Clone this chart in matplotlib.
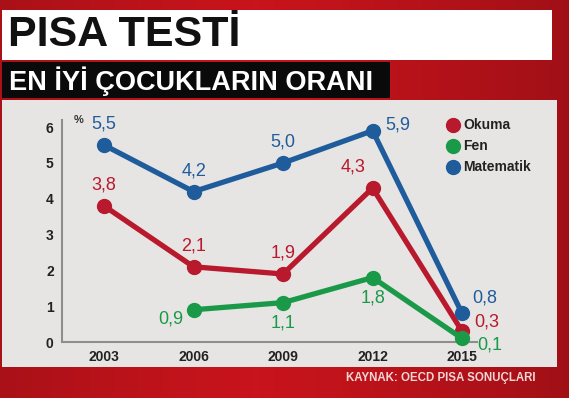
import numpy as np
import matplotlib.pyplot as plt
from matplotlib.patches import Rectangle
from matplotlib.colors import LinearSegmentedColormap

years = [2003, 2006, 2009, 2012, 2015]
okuma = [3.8, 2.1, 1.9, 4.3, 0.3]
fen_years = [2006, 2009, 2012, 2015]
fen = [0.9, 1.1, 1.8, 0.1]
matematik = [5.5, 4.2, 5.0, 5.9, 0.8]
yticks = [0, 1, 2, 3, 4, 5, 6]

c_red = "#b8192c"
c_green = "#1a9a48"
c_blue = "#1f5c9c"

plt.rcParams["font.family"] = ["Liberation Sans", "DejaVu Sans"]

fig = plt.figure(figsize=(5.69, 3.98), dpi=100)

# red background with a soft gradient
bg = fig.add_axes([0, 0, 1, 1], zorder=-10)
gx = np.linspace(0, 1, 200)
grad = np.outer(np.ones(50), 1 - 0.35 * np.abs(gx - 0.45) ** 1.2)
cm = LinearSegmentedColormap.from_list("bgred", ["#6e0a10", "#c8141c"])
bg.imshow(grad, cmap=cm, vmin=0.6, vmax=1.0, aspect="auto", extent=[0, 1, 0, 1])
bg.set_xlim(0, 1)
bg.set_ylim(0, 1)
bg.axis("off")

W, H = 569, 398
def box(x0, y0, x1, y1, color):
    bg.add_patch(Rectangle((x0 / W, 1 - y1 / H), (x1 - x0) / W, (y1 - y0) / H,
                           facecolor=color, edgecolor="none", zorder=2))

box(2, 10, 552, 60, "white")
box(2, 62, 390, 98, "#0a0a0a")
box(2, 100, 557, 367, "#e7e5e3")

fig.text(8 / W, 1 - 35 / H, "PISA TESTİ", fontsize=31, fontweight="bold",
         color="#111111", va="center", ha="left")
fig.text(9 / W, 1 - 81 / H, "EN İYİ ÇOCUKLARIN ORANI", fontsize=19.5, fontweight="bold",
         color="white", va="center", ha="left")
fig.text(535 / W, 1 - 378 / H, "KAYNAK: OECD PISA SONUÇLARI", fontsize=8.3, fontweight="bold",
         color="#f4d6d6", va="center", ha="right")

ax = fig.add_axes([62 / W, 1 - 342 / H, (477 - 62) / W, (342 - 120) / H])
ax.set_facecolor("none")
ax.set_xlim(2001.59, 2015.5)
ax.set_ylim(0, 6.2)
for s in ["top", "right"]:
    ax.spines[s].set_visible(False)
for s in ["left", "bottom"]:
    ax.spines[s].set_color("#8e8e8e")
    ax.spines[s].set_linewidth(1.5)
ax.set_xticks(years)
ax.set_xticklabels([str(y) for y in years])
ax.set_yticks(yticks)
ax.tick_params(length=0, labelsize=10, pad=6, labelcolor="#222222")
for t in ax.get_xticklabels() + ax.get_yticklabels():
    t.set_fontweight("bold")

kw = dict(lw=3.8, marker="o", markersize=10, clip_on=False, zorder=3)
ax.plot(years, okuma, color=c_red, **kw)
ax.plot(fen_years, fen, color=c_green, **kw)
ax.plot(years, matematik, color=c_blue, **kw)

def lab(x, y, dx, dy, color, ha="center"):
    ax.annotate(f"{y:.1f}".replace(".", ","), (x, y), xytext=(dx, dy),
                textcoords="offset points", ha=ha, va="center", fontsize=13,
                color=color)

lab(2003, 5.5, 0, 15, c_blue)
lab(2006, 4.2, 0, 15, c_blue)
lab(2009, 5.0, 0, 15, c_blue)
lab(2012, 5.9, 9, 4, c_blue, "left")
lab(2015, 0.8, 7, 11, c_blue, "left")

lab(2003, 3.8, 0, 15, c_red)
lab(2006, 2.1, 0, 15, c_red)
lab(2009, 1.9, 0, 15, c_red)
lab(2012, 4.3, -5, 15, c_red, "right")
lab(2015, 0.3, 9, 7, c_red, "left")

lab(2006, 0.9, -7, -7, c_green, "right")
lab(2009, 1.1, 0, -15, c_green)
lab(2012, 1.8, 0, -15, c_green)
lab(2015, 0.1, 11, -5, c_green, "left")

ax.text(2002.0, 6.2, "%", fontsize=8, fontweight="bold", color="#333333", va="center")

# legend
for i, (name, col) in enumerate([("Okuma", c_red), ("Fen", c_green), ("Matematik", c_blue)]):
    yy = 1 - (125 + i * 21) / H
    fig.lines.append(plt.Line2D([453 / W], [yy], marker="o", markersize=10, color=col,
                                transform=fig.transFigure))
    fig.text(463 / W, yy, name, fontsize=10, fontweight="bold", color="#222222",
             va="center", ha="left")

fig.savefig("out.png", dpi=100)
